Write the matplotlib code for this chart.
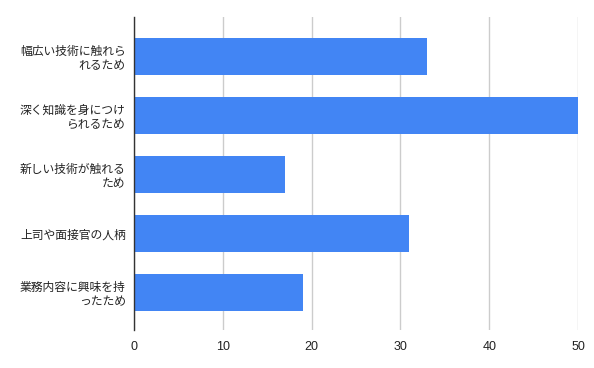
import matplotlib
matplotlib.use("Agg")
import matplotlib.pyplot as plt

plt.rcParams['font.family'] = ['Noto Sans CJK JP', 'DejaVu Sans']

categories = ["幅広い技術に触れら\nれるため", "深く知識を身につけ\nられるため", "新しい技術が触れる\nため",
              "上司や面接官の人柄", "業務内容に興味を持\nったため"]
values = [33, 50, 17, 31, 19]
xticks = [0, 10, 20, 30, 40, 50]

fig = plt.figure(figsize=(5.94, 3.68), dpi=100)
ax = fig.add_axes([134/594, 38/368, 444/594, 313/368])
y = list(range(len(categories)))
ax.barh(y, values, height=0.63, color='#4285F4', zorder=3)
ax.set_ylim(4.64, -0.67)
ax.set_xlim(0, 50)
ax.set_xticks(xticks)
ax.set_xticklabels([str(t) for t in xticks], fontsize=9, color='#222222',
                   family=['Liberation Sans', 'DejaVu Sans'])
ax.set_yticks(y)
ax.set_yticklabels(categories, fontsize=8.5, color='#222222', linespacing=1.15, ha='right')
ax.tick_params(axis='y', length=0, pad=6)
ax.tick_params(axis='x', length=0, pad=8)
ax.grid(axis='x', color='#cccccc', linewidth=1, zorder=0)
for s in ['top', 'right', 'bottom']:
    ax.spines[s].set_visible(False)
ax.spines['left'].set_color('#333333')
ax.spines['left'].set_linewidth(1)
ax.spines['left'].set_zorder(4)
fig.savefig('out.png', dpi=100)
